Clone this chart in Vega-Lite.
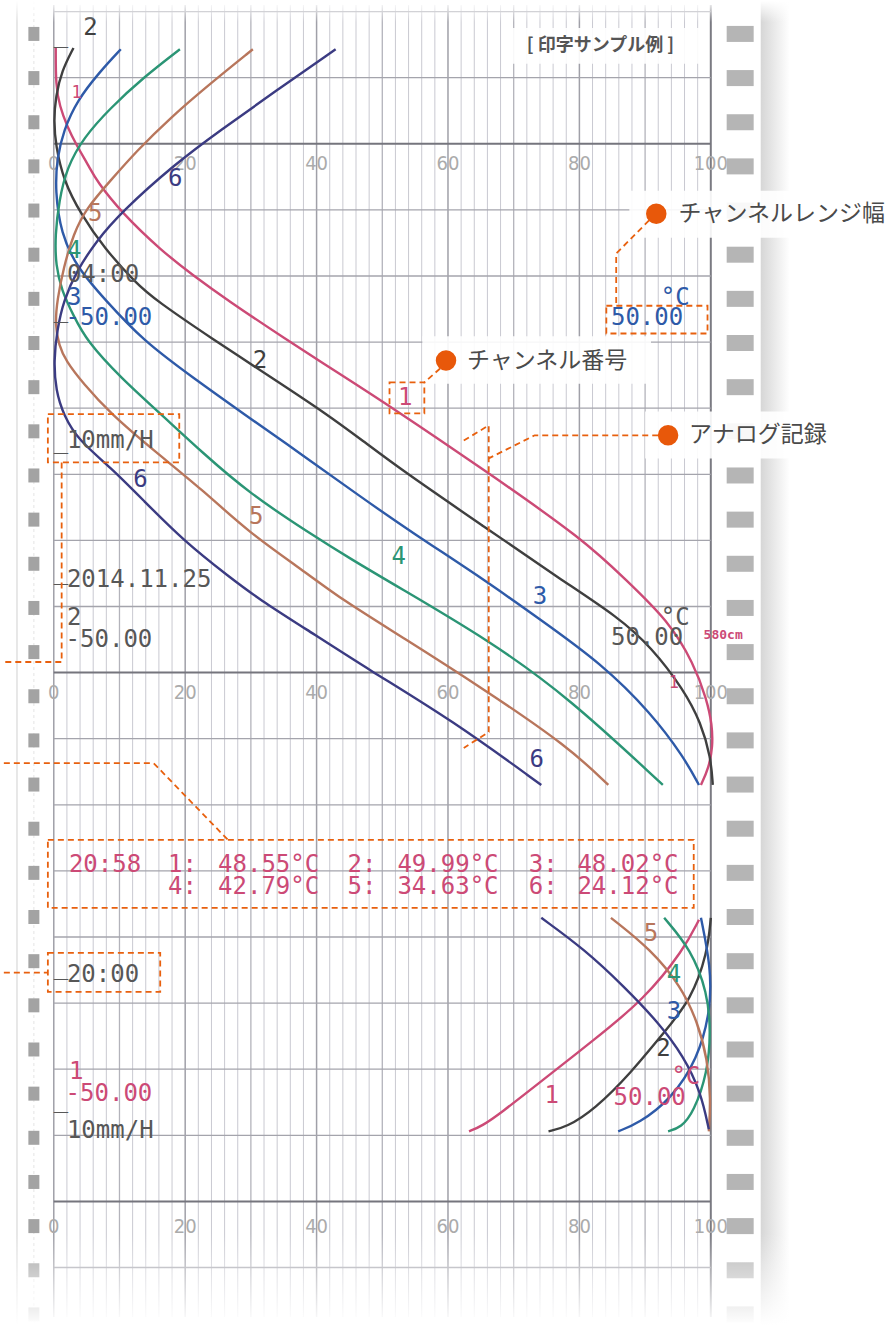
{
"$schema":"https://vega.github.io/schema/vega-lite/v6.json",
"width":887,"height":1326,
"autosize":{"type":"fit","contains":"padding"},
"padding":0,
"background":"#ffffff",
"config":{"view":{"stroke":null}},
"datasets":{
"vgrid":[{"x":0,"k":"m","y":-1.0,"y2":197.5},{"x":2,"k":"n","y":-1.0,"y2":197.5},{"x":4,"k":"n","y":-1.0,"y2":197.5},{"x":6,"k":"n","y":-1.0,"y2":197.5},{"x":8,"k":"n","y":-1.0,"y2":197.5},{"x":10,"k":"t","y":-1.0,"y2":197.5},{"x":12,"k":"n","y":-1.0,"y2":197.5},{"x":14,"k":"n","y":-1.0,"y2":197.5},{"x":16,"k":"n","y":-1.0,"y2":197.5},{"x":18,"k":"n","y":-1.0,"y2":197.5},{"x":20,"k":"m","y":-1.0,"y2":197.5},{"x":22,"k":"n","y":-1.0,"y2":197.5},{"x":24,"k":"n","y":-1.0,"y2":197.5},{"x":26,"k":"n","y":-1.0,"y2":197.5},{"x":28,"k":"n","y":-1.0,"y2":197.5},{"x":30,"k":"t","y":-1.0,"y2":197.5},{"x":32,"k":"n","y":-1.0,"y2":197.5},{"x":34,"k":"n","y":-1.0,"y2":197.5},{"x":36,"k":"n","y":-1.0,"y2":197.5},{"x":38,"k":"n","y":-1.0,"y2":197.5},{"x":40,"k":"m","y":-1.0,"y2":197.5},{"x":42,"k":"n","y":-1.0,"y2":197.5},{"x":44,"k":"n","y":-1.0,"y2":197.5},{"x":46,"k":"n","y":-1.0,"y2":197.5},{"x":48,"k":"n","y":-1.0,"y2":197.5},{"x":50,"k":"t","y":-1.0,"y2":197.5},{"x":52,"k":"n","y":-1.0,"y2":197.5},{"x":54,"k":"n","y":-1.0,"y2":197.5},{"x":56,"k":"n","y":-1.0,"y2":197.5},{"x":58,"k":"n","y":-1.0,"y2":197.5},{"x":60,"k":"m","y":-1.0,"y2":197.5},{"x":62,"k":"n","y":-1.0,"y2":197.5},{"x":64,"k":"n","y":-1.0,"y2":197.5},{"x":66,"k":"n","y":-1.0,"y2":197.5},{"x":68,"k":"n","y":-1.0,"y2":197.5},{"x":70,"k":"t","y":-1.0,"y2":197.5},{"x":72,"k":"n","y":-1.0,"y2":197.5},{"x":74,"k":"n","y":-1.0,"y2":197.5},{"x":76,"k":"n","y":-1.0,"y2":197.5},{"x":78,"k":"n","y":-1.0,"y2":197.5},{"x":80,"k":"m","y":-1.0,"y2":197.5},{"x":82,"k":"n","y":-1.0,"y2":197.5},{"x":84,"k":"n","y":-1.0,"y2":197.5},{"x":86,"k":"n","y":-1.0,"y2":197.5},{"x":88,"k":"n","y":-1.0,"y2":197.5},{"x":90,"k":"t","y":-1.0,"y2":197.5},{"x":92,"k":"n","y":-1.0,"y2":197.5},{"x":94,"k":"n","y":-1.0,"y2":197.5},{"x":96,"k":"n","y":-1.0,"y2":197.5},{"x":98,"k":"n","y":-1.0,"y2":197.5},{"x":100,"k":"b","y":-1.0,"y2":197.5}],
"hgrid":[{"y":0,"k":"n","x":0,"x2":100},{"y":10,"k":"n","x":0,"x2":100},{"y":20,"k":"h","x":0,"x2":100},{"y":30,"k":"n","x":0,"x2":100},{"y":40,"k":"n","x":0,"x2":100},{"y":50,"k":"n","x":0,"x2":100},{"y":60,"k":"n","x":0,"x2":100},{"y":70,"k":"n","x":0,"x2":100},{"y":80,"k":"n","x":0,"x2":100},{"y":90,"k":"n","x":0,"x2":100},{"y":100,"k":"h","x":0,"x2":100},{"y":110,"k":"n","x":0,"x2":100},{"y":120,"k":"n","x":0,"x2":100},{"y":130,"k":"n","x":0,"x2":100},{"y":140,"k":"n","x":0,"x2":100},{"y":150,"k":"n","x":0,"x2":100},{"y":160,"k":"n","x":0,"x2":100},{"y":170,"k":"n","x":0,"x2":100},{"y":180,"k":"h","x":0,"x2":100},{"y":190,"k":"n","x":0,"x2":100}],
"edges":[{"x":-5.6,"y":-1.6,"y2":198.7,"k":"e"},{"x":-3.03,"y":-1.6,"y2":198.7,"k":"d"}],
"ticks":[{"x":0,"y":23.0,"t":"0"},{"x":20,"y":23.0,"t":"20"},{"x":40,"y":23.0,"t":"40"},{"x":60,"y":23.0,"t":"60"},{"x":80,"y":23.0,"t":"80"},{"x":100,"y":23.0,"t":"100"},{"x":0,"y":103.1,"t":"0"},{"x":20,"y":103.1,"t":"20"},{"x":40,"y":103.1,"t":"40"},{"x":60,"y":103.1,"t":"60"},{"x":80,"y":103.1,"t":"80"},{"x":100,"y":103.1,"t":"100"},{"x":0,"y":183.9,"t":"0"},{"x":20,"y":183.9,"t":"20"},{"x":40,"y":183.9,"t":"40"},{"x":60,"y":183.9,"t":"60"},{"x":80,"y":183.9,"t":"80"},{"x":100,"y":183.9,"t":"100"}],
"holesL":[{"x":-3.03,"y":3.38},{"x":-3.03,"y":10.06},{"x":-3.03,"y":16.74},{"x":-3.03,"y":23.42},{"x":-3.03,"y":30.10},{"x":-3.03,"y":36.78},{"x":-3.03,"y":43.46},{"x":-3.03,"y":50.14},{"x":-3.03,"y":56.82},{"x":-3.03,"y":63.50},{"x":-3.03,"y":70.18},{"x":-3.03,"y":76.86},{"x":-3.03,"y":83.54},{"x":-3.03,"y":90.22},{"x":-3.03,"y":96.90},{"x":-3.03,"y":103.58},{"x":-3.03,"y":110.26},{"x":-3.03,"y":116.94},{"x":-3.03,"y":123.62},{"x":-3.03,"y":130.30},{"x":-3.03,"y":136.98},{"x":-3.03,"y":143.66},{"x":-3.03,"y":150.34},{"x":-3.03,"y":157.02},{"x":-3.03,"y":163.70},{"x":-3.03,"y":170.38},{"x":-3.03,"y":177.06},{"x":-3.03,"y":183.74},{"x":-3.03,"y":190.42},{"x":-3.03,"y":197.10}],
"holesR":[{"x":104.47,"y":3.38},{"x":104.47,"y":10.06},{"x":104.47,"y":16.74},{"x":104.47,"y":23.42},{"x":104.47,"y":30.10},{"x":104.47,"y":36.78},{"x":104.47,"y":43.46},{"x":104.47,"y":50.14},{"x":104.47,"y":56.82},{"x":104.47,"y":63.50},{"x":104.47,"y":70.18},{"x":104.47,"y":76.86},{"x":104.47,"y":83.54},{"x":104.47,"y":90.22},{"x":104.47,"y":96.90},{"x":104.47,"y":103.58},{"x":104.47,"y":110.26},{"x":104.47,"y":116.94},{"x":104.47,"y":123.62},{"x":104.47,"y":130.30},{"x":104.47,"y":136.98},{"x":104.47,"y":143.66},{"x":104.47,"y":150.34},{"x":104.47,"y":157.02},{"x":104.47,"y":163.70},{"x":104.47,"y":170.38},{"x":104.47,"y":177.06},{"x":104.47,"y":183.74},{"x":104.47,"y":190.42},{"x":104.47,"y":197.10}],
"curves":[
{"ch":"1","s":"1A","o":0,"x":0.3,"y":5.5},{"ch":"1","s":"1A","o":1,"x":0.3,"y":11.2},{"ch":"1","s":"1A","o":2,"x":0.9,"y":14.3},{"ch":"1","s":"1A","o":3,"x":2.0,"y":17.3},{"ch":"1","s":"1A","o":4,"x":3.5,"y":20.3},{"ch":"1","s":"1A","o":5,"x":5.3,"y":23.3},{"ch":"1","s":"1A","o":6,"x":6.5,"y":25.6},{"ch":"1","s":"1A","o":7,"x":10.3,"y":30.4},{"ch":"1","s":"1A","o":8,"x":16.4,"y":36.2},{"ch":"1","s":"1A","o":9,"x":21.2,"y":39.9},{"ch":"1","s":"1A","o":10,"x":26.5,"y":43.7},{"ch":"1","s":"1A","o":11,"x":35.2,"y":49.5},{"ch":"1","s":"1A","o":12,"x":43.2,"y":54.6},{"ch":"1","s":"1A","o":13,"x":51.5,"y":59.9},{"ch":"1","s":"1A","o":14,"x":65.6,"y":69.4},{"ch":"1","s":"1A","o":15,"x":80.8,"y":80.0},{"ch":"1","s":"1A","o":16,"x":87.1,"y":86.0},{"ch":"1","s":"1A","o":17,"x":93.5,"y":92.1},{"ch":"1","s":"1A","o":18,"x":97.4,"y":98.6},{"ch":"1","s":"1A","o":19,"x":99.4,"y":104.1},{"ch":"1","s":"1A","o":20,"x":100.2,"y":107.9},{"ch":"1","s":"1A","o":21,"x":100.3,"y":111.2},{"ch":"1","s":"1A","o":22,"x":99.7,"y":114.4},{"ch":"1","s":"1A","o":23,"x":98.5,"y":117.0},
{"ch":"2","s":"2A","o":0,"x":3.0,"y":5.5},{"ch":"2","s":"2A","o":1,"x":1.2,"y":9.0},{"ch":"2","s":"2A","o":2,"x":0.3,"y":12.8},{"ch":"2","s":"2A","o":3,"x":0.0,"y":16.5},{"ch":"2","s":"2A","o":4,"x":0.3,"y":20.3},{"ch":"2","s":"2A","o":5,"x":1.5,"y":25.6},{"ch":"2","s":"2A","o":6,"x":4.1,"y":30.6},{"ch":"2","s":"2A","o":7,"x":7.6,"y":35.7},{"ch":"2","s":"2A","o":8,"x":12.6,"y":41.2},{"ch":"2","s":"2A","o":9,"x":15.6,"y":43.7},{"ch":"2","s":"2A","o":10,"x":23.8,"y":49.3},{"ch":"2","s":"2A","o":11,"x":33.8,"y":55.8},{"ch":"2","s":"2A","o":12,"x":41.4,"y":60.8},{"ch":"2","s":"2A","o":13,"x":47.0,"y":64.9},{"ch":"2","s":"2A","o":14,"x":53.0,"y":69.4},{"ch":"2","s":"2A","o":15,"x":65.6,"y":78.0},{"ch":"2","s":"2A","o":16,"x":77.3,"y":86.0},{"ch":"2","s":"2A","o":17,"x":85.9,"y":91.6},{"ch":"2","s":"2A","o":18,"x":90.9,"y":96.1},{"ch":"2","s":"2A","o":19,"x":95.9,"y":102.6},{"ch":"2","s":"2A","o":20,"x":98.5,"y":107.6},{"ch":"2","s":"2A","o":21,"x":100.0,"y":112.8},{"ch":"2","s":"2A","o":22,"x":100.3,"y":117.0},
{"ch":"3","s":"3A","o":0,"x":10.2,"y":5.7},{"ch":"3","s":"3A","o":1,"x":7.1,"y":9.0},{"ch":"3","s":"3A","o":2,"x":3.5,"y":13.5},{"ch":"3","s":"3A","o":3,"x":1.5,"y":18.0},{"ch":"3","s":"3A","o":4,"x":0.5,"y":22.1},{"ch":"3","s":"3A","o":5,"x":0.2,"y":27.1},{"ch":"3","s":"3A","o":6,"x":1.1,"y":33.6},{"ch":"3","s":"3A","o":7,"x":3.5,"y":38.7},{"ch":"3","s":"3A","o":8,"x":7.9,"y":43.7},{"ch":"3","s":"3A","o":9,"x":13.6,"y":49.8},{"ch":"3","s":"3A","o":10,"x":21.2,"y":55.4},{"ch":"3","s":"3A","o":11,"x":28.8,"y":60.8},{"ch":"3","s":"3A","o":12,"x":37.9,"y":67.1},{"ch":"3","s":"3A","o":13,"x":46.4,"y":73.2},{"ch":"3","s":"3A","o":14,"x":54.5,"y":78.8},{"ch":"3","s":"3A","o":15,"x":65.6,"y":86.0},{"ch":"3","s":"3A","o":16,"x":74.2,"y":92.1},{"ch":"3","s":"3A","o":17,"x":83.3,"y":98.6},{"ch":"3","s":"3A","o":18,"x":90.9,"y":106.1},{"ch":"3","s":"3A","o":19,"x":95.9,"y":112.8},{"ch":"3","s":"3A","o":20,"x":98.2,"y":117.0},
{"ch":"4","s":"4A","o":0,"x":19.2,"y":5.7},{"ch":"4","s":"4A","o":1,"x":13.6,"y":10.0},{"ch":"4","s":"4A","o":2,"x":8.6,"y":14.6},{"ch":"4","s":"4A","o":3,"x":4.5,"y":19.1},{"ch":"4","s":"4A","o":4,"x":2.0,"y":23.6},{"ch":"4","s":"4A","o":5,"x":0.8,"y":28.6},{"ch":"4","s":"4A","o":6,"x":0.2,"y":33.9},{"ch":"4","s":"4A","o":7,"x":0.3,"y":38.4},{"ch":"4","s":"4A","o":8,"x":1.2,"y":42.2},{"ch":"4","s":"4A","o":9,"x":3.0,"y":46.0},{"ch":"4","s":"4A","o":10,"x":5.0,"y":49.8},{"ch":"4","s":"4A","o":11,"x":10.2,"y":55.4},{"ch":"4","s":"4A","o":12,"x":16.2,"y":60.8},{"ch":"4","s":"4A","o":13,"x":22.7,"y":66.8},{"ch":"4","s":"4A","o":14,"x":29.8,"y":72.9},{"ch":"4","s":"4A","o":15,"x":38.9,"y":78.9},{"ch":"4","s":"4A","o":16,"x":45.5,"y":83.0},{"ch":"4","s":"4A","o":17,"x":52.0,"y":86.8},{"ch":"4","s":"4A","o":18,"x":66.2,"y":95.1},{"ch":"4","s":"4A","o":19,"x":78.3,"y":103.7},{"ch":"4","s":"4A","o":20,"x":92.7,"y":117.0},
{"ch":"5","s":"5A","o":0,"x":30.3,"y":5.7},{"ch":"5","s":"5A","o":1,"x":23.8,"y":10.9},{"ch":"5","s":"5A","o":2,"x":17.7,"y":16.1},{"ch":"5","s":"5A","o":3,"x":12.6,"y":21.1},{"ch":"5","s":"5A","o":4,"x":8.6,"y":25.6},{"ch":"5","s":"5A","o":5,"x":5.0,"y":29.7},{"ch":"5","s":"5A","o":6,"x":3.0,"y":33.6},{"ch":"5","s":"5A","o":7,"x":1.5,"y":38.7},{"ch":"5","s":"5A","o":8,"x":0.5,"y":43.7},{"ch":"5","s":"5A","o":9,"x":0.2,"y":47.5},{"ch":"5","s":"5A","o":10,"x":0.8,"y":50.5},{"ch":"5","s":"5A","o":11,"x":1.8,"y":52.8},{"ch":"5","s":"5A","o":12,"x":4.5,"y":56.3},{"ch":"5","s":"5A","o":13,"x":8.6,"y":60.8},{"ch":"5","s":"5A","o":14,"x":15.2,"y":66.4},{"ch":"5","s":"5A","o":15,"x":22.7,"y":72.4},{"ch":"5","s":"5A","o":16,"x":29.8,"y":78.9},{"ch":"5","s":"5A","o":17,"x":37.9,"y":84.5},{"ch":"5","s":"5A","o":18,"x":43.9,"y":89.0},{"ch":"5","s":"5A","o":19,"x":53.0,"y":94.6},{"ch":"5","s":"5A","o":20,"x":65.6,"y":102.6},{"ch":"5","s":"5A","o":21,"x":78.3,"y":111.2},{"ch":"5","s":"5A","o":22,"x":84.4,"y":117.0},
{"ch":"6","s":"6A","o":0,"x":42.9,"y":5.7},{"ch":"6","s":"6A","o":1,"x":33.8,"y":12.0},{"ch":"6","s":"6A","o":2,"x":25.3,"y":18.0},{"ch":"6","s":"6A","o":3,"x":18.5,"y":23.0},{"ch":"6","s":"6A","o":4,"x":10.2,"y":30.4},{"ch":"6","s":"6A","o":5,"x":6.5,"y":34.7},{"ch":"6","s":"6A","o":6,"x":3.5,"y":39.2},{"ch":"6","s":"6A","o":7,"x":1.5,"y":43.7},{"ch":"6","s":"6A","o":8,"x":0.5,"y":48.2},{"ch":"6","s":"6A","o":9,"x":0.0,"y":52.8},{"ch":"6","s":"6A","o":10,"x":0.3,"y":57.3},{"ch":"6","s":"6A","o":11,"x":1.5,"y":61.1},{"ch":"6","s":"6A","o":12,"x":3.8,"y":64.9},{"ch":"6","s":"6A","o":13,"x":8.6,"y":68.9},{"ch":"6","s":"6A","o":14,"x":13.6,"y":73.9},{"ch":"6","s":"6A","o":15,"x":19.7,"y":80.0},{"ch":"6","s":"6A","o":16,"x":26.8,"y":85.6},{"ch":"6","s":"6A","o":17,"x":31.4,"y":89.0},{"ch":"6","s":"6A","o":18,"x":37.9,"y":93.1},{"ch":"6","s":"6A","o":19,"x":48.0,"y":99.6},{"ch":"6","s":"6A","o":20,"x":60.6,"y":107.2},{"ch":"6","s":"6A","o":21,"x":74.2,"y":117.0},
{"ch":"1","s":"1B","o":0,"x":98.2,"y":137.4},{"ch":"1","s":"1B","o":1,"x":95.9,"y":141.9},{"ch":"1","s":"1B","o":2,"x":89.8,"y":149.5},{"ch":"1","s":"1B","o":3,"x":82.3,"y":155.5},{"ch":"1","s":"1B","o":4,"x":73.2,"y":162.6},{"ch":"1","s":"1B","o":5,"x":68.2,"y":166.5},{"ch":"1","s":"1B","o":6,"x":65.2,"y":168.6},{"ch":"1","s":"1B","o":7,"x":63.2,"y":169.4},
{"ch":"2","s":"2B","o":0,"x":100.0,"y":137.1},{"ch":"2","s":"2B","o":1,"x":99.5,"y":142.4},{"ch":"2","s":"2B","o":2,"x":97.0,"y":149.5},{"ch":"2","s":"2B","o":3,"x":92.9,"y":154.4},{"ch":"2","s":"2B","o":4,"x":87.9,"y":160.5},{"ch":"2","s":"2B","o":5,"x":82.3,"y":166.1},{"ch":"2","s":"2B","o":6,"x":78.0,"y":168.8},{"ch":"2","s":"2B","o":7,"x":75.3,"y":169.4},
{"ch":"3","s":"3B","o":0,"x":98.5,"y":137.1},{"ch":"3","s":"3B","o":1,"x":100.0,"y":144.5},{"ch":"3","s":"3B","o":2,"x":100.0,"y":151.0},{"ch":"3","s":"3B","o":3,"x":98.0,"y":158.5},{"ch":"3","s":"3B","o":4,"x":93.9,"y":164.6},{"ch":"3","s":"3B","o":5,"x":89.0,"y":168.2},{"ch":"3","s":"3B","o":6,"x":85.9,"y":169.4},
{"ch":"4","s":"4B","o":0,"x":92.9,"y":137.1},{"ch":"4","s":"4B","o":1,"x":97.0,"y":141.9},{"ch":"4","s":"4B","o":2,"x":99.5,"y":148.4},{"ch":"4","s":"4B","o":3,"x":100.0,"y":154.4},{"ch":"4","s":"4B","o":4,"x":99.5,"y":160.5},{"ch":"4","s":"4B","o":5,"x":97.4,"y":166.5},{"ch":"4","s":"4B","o":6,"x":95.5,"y":168.8},{"ch":"4","s":"4B","o":7,"x":93.5,"y":169.4},
{"ch":"5","s":"5B","o":0,"x":84.8,"y":137.1},{"ch":"5","s":"5B","o":1,"x":90.9,"y":141.9},{"ch":"5","s":"5B","o":2,"x":95.5,"y":147.5},{"ch":"5","s":"5B","o":3,"x":98.0,"y":152.9},{"ch":"5","s":"5B","o":4,"x":99.5,"y":158.5},{"ch":"5","s":"5B","o":5,"x":100.0,"y":164.6},{"ch":"5","s":"5B","o":6,"x":99.7,"y":169.4},
{"ch":"6","s":"6B","o":0,"x":74.2,"y":137.1},{"ch":"6","s":"6B","o":1,"x":80.8,"y":141.9},{"ch":"6","s":"6B","o":2,"x":86.8,"y":147.5},{"ch":"6","s":"6B","o":3,"x":92.0,"y":152.9},{"ch":"6","s":"6B","o":4,"x":95.9,"y":158.1},{"ch":"6","s":"6B","o":5,"x":98.5,"y":163.5},{"ch":"6","s":"6B","o":6,"x":99.7,"y":169.1}
],
"print":[
{"x":4.5,"y":2.5,"t":"2","ch":"2"},
{"x":17.4,"y":25.3,"t":"6","ch":"6"},
{"x":5.2,"y":30.6,"t":"5","ch":"5"},
{"x":2.0,"y":36.2,"t":"4","ch":"4"},
{"x":2.0,"y":39.9,"t":"04:00","ch":"g"},
{"x":2.0,"y":43.3,"t":"3","ch":"3"},
{"x":1.8,"y":46.4,"t":"-50.00","ch":"3"},
{"x":92.4,"y":43.3,"t":"°C","ch":"3"},
{"x":84.8,"y":46.4,"t":"50.00","ch":"3"},
{"x":30.3,"y":52.8,"t":"2","ch":"2"},
{"x":52.4,"y":58.5,"t":"1","ch":"1"},
{"x":2.0,"y":64.9,"t":"10mm/H","ch":"g"},
{"x":12.1,"y":70.9,"t":"6","ch":"6"},
{"x":29.7,"y":76.5,"t":"5","ch":"5"},
{"x":51.4,"y":82.5,"t":"4","ch":"4"},
{"x":72.9,"y":88.6,"t":"3","ch":"3"},
{"x":2.0,"y":86.0,"t":"2014.11.25","ch":"g"},
{"x":2.0,"y":91.8,"t":"2","ch":"g"},
{"x":1.8,"y":95.1,"t":"-50.00","ch":"g"},
{"x":92.4,"y":91.8,"t":"°C","ch":"g"},
{"x":84.8,"y":94.8,"t":"50.00","ch":"g"},
{"x":72.4,"y":113.2,"t":"6","ch":"6"},
{"x":2.3,"y":129.1,"t":"20:58","ch":"1"},
{"x":17.4,"y":129.1,"t":"1:","ch":"1"},
{"x":25.0,"y":129.1,"t":"48.55°C","ch":"1"},
{"x":44.7,"y":129.1,"t":"2:","ch":"1"},
{"x":52.3,"y":129.1,"t":"49.99°C","ch":"1"},
{"x":72.3,"y":129.1,"t":"3:","ch":"1"},
{"x":79.7,"y":129.1,"t":"48.02°C","ch":"1"},
{"x":17.4,"y":132.4,"t":"4:","ch":"1"},
{"x":25.0,"y":132.4,"t":"42.79°C","ch":"1"},
{"x":44.7,"y":132.4,"t":"5:","ch":"1"},
{"x":52.3,"y":132.4,"t":"34.63°C","ch":"1"},
{"x":72.3,"y":132.4,"t":"6:","ch":"1"},
{"x":79.7,"y":132.4,"t":"24.12°C","ch":"1"},
{"x":2.0,"y":145.7,"t":"20:00","ch":"g"},
{"x":2.3,"y":160.5,"t":"1","ch":"1"},
{"x":1.8,"y":163.8,"t":"-50.00","ch":"1"},
{"x":2.0,"y":169.4,"t":"10mm/H","ch":"g"},
{"x":89.8,"y":139.6,"t":"5","ch":"5"},
{"x":93.3,"y":145.7,"t":"4","ch":"4"},
{"x":93.3,"y":151.3,"t":"3","ch":"3"},
{"x":91.7,"y":157.0,"t":"2","ch":"2"},
{"x":94.0,"y":161.2,"t":"°C","ch":"1"},
{"x":85.2,"y":164.4,"t":"50.00","ch":"1"},
{"x":74.7,"y":164.1,"t":"1","ch":"1"},
{"x":0.0,"y":3.5,"t":"_","ch":"g"},
{"x":0.0,"y":45.1,"t":"_","ch":"g"},
{"x":0.0,"y":64.9,"t":"_","ch":"g"},
{"x":0.0,"y":84.8,"t":"_","ch":"g"},
{"x":0.0,"y":144.5,"t":"_","ch":"g"},
{"x":0.0,"y":164.6,"t":"_","ch":"g"}
],
"small":[{"x":2.7,"y":12.3,"t":"1","ch":"1"},{"x":93.6,"y":101.6,"t":"1","ch":"1"}],
"tiny":[{"x":98.9,"y":94.3,"t":"580cm","ch":"1"}],
"bgbox":[{"x":68.2,"x2":98.2,"y":2.5,"y2":7.9},{"x":87.6,"x2":126.8,"y":27.1,"y2":34.2},{"x":56.1,"x2":90.9,"y":49.1,"y2":56.3},{"x":90.0,"x2":120.5,"y":60.5,"y2":67.6}],
"dbox":[{"x":84.1,"x2":99.5,"y":44.5,"y2":48.7},{"x":51.1,"x2":56.4,"y":56.1,"y2":60.8},{"x":-0.9,"x2":19.1,"y":60.9,"y2":68.2},{"x":-0.9,"x2":97.4,"y":125.3,"y2":135.6},{"x":-0.9,"x2":16.2,"y":142.4,"y2":148.3}],
"dline":[
{"id":"A","o":0,"x":90.6,"y":31.6},{"id":"A","o":1,"x":85.6,"y":36.6},{"id":"A","o":2,"x":85.6,"y":44.5},
{"id":"B","o":0,"x":58.8,"y":54.0},{"id":"B","o":1,"x":56.4,"y":56.1},
{"id":"C1","o":0,"x":92.0,"y":64.1},{"id":"C1","o":1,"x":73.2,"y":64.1},{"id":"C1","o":2,"x":66.2,"y":67.6},
{"id":"C2","o":0,"x":62.4,"y":64.9},{"id":"C2","o":1,"x":66.2,"y":62.6},{"id":"C2","o":2,"x":66.2,"y":109.0},{"id":"C2","o":3,"x":62.4,"y":111.4},
{"id":"D","o":0,"x":1.2,"y":68.2},{"id":"D","o":1,"x":1.2,"y":98.4},{"id":"D","o":2,"x":-7.6,"y":98.4},
{"id":"E","o":0,"x":-7.6,"y":113.7},{"id":"E","o":1,"x":15.2,"y":113.7},{"id":"E","o":2,"x":26.5,"y":125.3},
{"id":"F","o":0,"x":-7.6,"y":145.4},{"id":"F","o":1,"x":-0.9,"y":145.4}
],
"dots":[{"x":91.7,"y":30.6},{"x":59.7,"y":52.8},{"x":93.5,"y":64.1}],
"anntext":[{"x":95.1,"y":30.6,"t":"チャンネルレンジ幅"},{"x":62.9,"y":52.8,"t":"チャンネル番号"},{"x":96.7,"y":64.1,"t":"アナログ記録"}],
"title":[{"x":83.2,"y":5.2,"t":"[ 印字サンプル例 ]"}],
"fadeTop":[{"x":-7.6,"x2":126.8,"y":-1.6,"y2":1.6}],
"fadeBot":[{"x":-7.6,"x2":126.8,"y":184.8,"y2":198.7}],
"shadow":[{"x":107.6,"x2":112.0,"y":-1.6,"y2":198.7}]
},
"encoding":{
"x":{"field":"x","type":"quantitative","scale":{"domain":[-7.576,126.818],"nice":false,"zero":false},"axis":null},
"y":{"field":"y","type":"quantitative","scale":{"domain":[-1.601,198.701],"nice":false,"zero":false,"reverse":true},"axis":null}
},
"layer":[
{"data":{"name":"shadow"},"mark":{"type":"rect","color":{"gradient":"linear","x1":0,"y1":0,"x2":1,"y2":0,"stops":[{"offset":0,"color":"#d6d6d6"},{"offset":1,"color":"#ffffff"}]}},"encoding":{"x2":{"field":"x2"},"y2":{"field":"y2"}}},
{"data":{"name":"edges"},"transform":[{"filter":"datum.k=='e'"}],"mark":{"type":"rule","color":"#e0e0e0","strokeWidth":1.5},"encoding":{"y2":{"field":"y2"}}},
{"data":{"name":"edges"},"transform":[{"filter":"datum.k=='d'"}],"mark":{"type":"rule","color":"#e4e4e4","strokeWidth":1,"strokeDash":[3,3]},"encoding":{"y2":{"field":"y2"}}},
{"data":{"name":"vgrid"},"transform":[{"filter":"datum.k=='n'"}],"mark":{"type":"rule","color":"#c9c9d1","strokeWidth":1},"encoding":{"y2":{"field":"y2"}}},
{"data":{"name":"vgrid"},"transform":[{"filter":"datum.k=='t'"}],"mark":{"type":"rule","color":"#b3b3bb","strokeWidth":1.3},"encoding":{"y2":{"field":"y2"}}},
{"data":{"name":"vgrid"},"transform":[{"filter":"datum.k=='m'"}],"mark":{"type":"rule","color":"#a0a0a8","strokeWidth":1.5},"encoding":{"y2":{"field":"y2"}}},
{"data":{"name":"vgrid"},"transform":[{"filter":"datum.k=='b'"}],"mark":{"type":"rule","color":"#7a7a82","strokeWidth":2},"encoding":{"y2":{"field":"y2"}}},
{"data":{"name":"hgrid"},"transform":[{"filter":"datum.k=='n'"}],"mark":{"type":"rule","color":"#a4a4ac","strokeWidth":1.3},"encoding":{"x2":{"field":"x2"}}},
{"data":{"name":"hgrid"},"transform":[{"filter":"datum.k=='h'"}],"mark":{"type":"rule","color":"#75757d","strokeWidth":2},"encoding":{"x2":{"field":"x2"}}},
{"data":{"name":"ticks"},"mark":{"type":"text","font":"Liberation Sans Narrow, DejaVu Sans Condensed, sans-serif","fontSize":20,"color":"#ababab","align":"center","baseline":"middle"},"encoding":{"text":{"field":"t"}}},
{"data":{"name":"holesL"},"mark":{"type":"point","filled":true,"shape":"M-0.786,-1H0.786V1H-0.786Z","size":196,"color":"#a3a3a3","opacity":1}},
{"data":{"name":"holesR"},"mark":{"type":"point","filled":true,"shape":"M-1,-0.593H1V0.593H-1Z","size":729,"color":"#b5b5b5","opacity":1}},
{"data":{"name":"curves"},"mark":{"type":"line","strokeWidth":2.4,"interpolate":"basis"},"encoding":{"color":{"field":"ch","type":"nominal","scale":{"domain":["1","2","3","4","5","6","g"],"range":["#cc4a76","#3f3f3f","#2e5aa8","#2b9575","#b8765c","#3b3b82","#575757"]},"legend":null},"detail":{"field":"s"},"order":{"field":"o","type":"quantitative"}}},
{"data":{"name":"print"},"mark":{"type":"text","font":"DejaVu Sans Mono","fontSize":24,"align":"left","baseline":"middle"},"encoding":{"text":{"field":"t"},"color":{"field":"ch","type":"nominal","legend":null}}},
{"data":{"name":"small"},"mark":{"type":"text","font":"DejaVu Sans Mono","fontSize":17,"align":"left","baseline":"middle"},"encoding":{"text":{"field":"t"},"color":{"field":"ch","type":"nominal","legend":null}}},
{"data":{"name":"tiny"},"mark":{"type":"text","font":"DejaVu Sans Mono","fontSize":13,"fontWeight":"bold","align":"left","baseline":"middle"},"encoding":{"text":{"field":"t"},"color":{"field":"ch","type":"nominal","legend":null}}},
{"data":{"name":"fadeTop"},"mark":{"type":"rect","color":{"gradient":"linear","x1":0,"y1":0,"x2":0,"y2":1,"stops":[{"offset":0,"color":"#ffffff"},{"offset":1,"color":"rgba(255,255,255,0)"}]}},"encoding":{"x2":{"field":"x2"},"y2":{"field":"y2"}}},
{"data":{"name":"fadeBot"},"mark":{"type":"rect","color":{"gradient":"linear","x1":0,"y1":0,"x2":0,"y2":1,"stops":[{"offset":0,"color":"rgba(255,255,255,0)"},{"offset":1,"color":"#ffffff"}]}},"encoding":{"x2":{"field":"x2"},"y2":{"field":"y2"}}},
{"data":{"name":"bgbox"},"mark":{"type":"rect","color":"#ffffff","opacity":0.9},"encoding":{"x2":{"field":"x2"},"y2":{"field":"y2"}}},
{"data":{"name":"dbox"},"mark":{"type":"rect","filled":false,"stroke":"#e8600e","strokeWidth":1.8,"strokeDash":[6,4]},"encoding":{"x2":{"field":"x2"},"y2":{"field":"y2"}}},
{"data":{"name":"dline"},"mark":{"type":"line","color":"#e8600e","strokeWidth":1.8,"strokeDash":[6,4]},"encoding":{"detail":{"field":"id"},"order":{"field":"o","type":"quantitative"}}},
{"data":{"name":"dots"},"mark":{"type":"point","filled":true,"shape":"circle","size":420,"color":"#e8580a","opacity":1}},
{"data":{"name":"anntext"},"mark":{"type":"text","font":"Noto Sans CJK JP","fontSize":23,"color":"#4a4a4a","align":"left","baseline":"middle"},"encoding":{"text":{"field":"t"}}},
{"data":{"name":"title"},"mark":{"type":"text","font":"Noto Sans CJK JP","fontSize":18,"fontWeight":"bold","color":"#555555","align":"center","baseline":"middle"},"encoding":{"text":{"field":"t"}}}
]
}
